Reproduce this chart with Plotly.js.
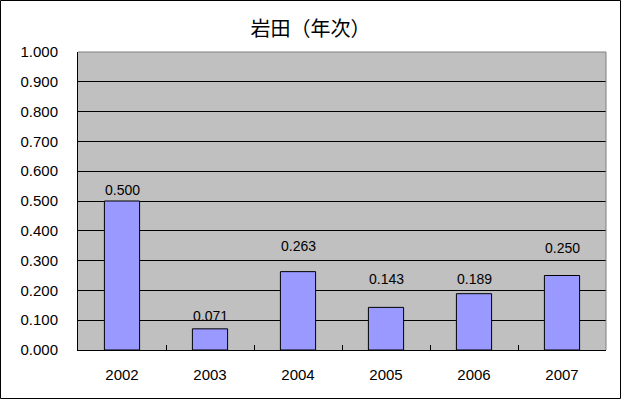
<!DOCTYPE html>
<html><head><meta charset="utf-8">
<script src="https://cdn.plot.ly/plotly-3.0.1.min.js"></script>
<style>body{margin:0;background:#fff}#c{width:621px;height:399px}</style>
</head><body><div id="c"></div>
<script>
var years = ['2002','2003','2004','2005','2006','2007'];
var values = [0.500, 0.071, 0.263, 0.143, 0.189, 0.250];
var yTicks = [0,0.1,0.2,0.3,0.4,0.5,0.6,0.7,0.8,0.9,1.0];
var titleText = '岩田（年次）';
// label placement (pixels above bar top), as positioned in the reference
var labelLift = [11, 13, 26, 28, 15, 28];

var L=78, R=15, T=52, B=49, W=621, H=399;
var pw=W-L-R, ph=H-T-B;
var font = 'Liberation Sans, Arial, sans-serif';

var trace = {
  type:'bar', x:years, y:values,
  marker:{color:'#9999FF', line:{color:'#000', width:1}},
  width:0.4,
  hoverinfo:'none'
};

var annotations = years.map(function(yr,i){
  return {x:i, y:values[i], xref:'x', yref:'y', text:values[i].toFixed(3),
          showarrow:false, xanchor:'center', yanchor:'middle', yshift:labelLift[i],
          font:{family:font, size:14, color:'#000'}};
});

var layout = {
  width:W, height:H,
  margin:{l:L, r:R, t:T, b:B, pad:0},
  paper_bgcolor:'#fff', plot_bgcolor:'#C0C0C0',
  showlegend:false,
  title:{text:titleText, font:{family:'Noto Sans CJK JP, sans-serif', size:20, color:'#000'},
         x:0.5, xanchor:'center', y:1-29/H, yanchor:'middle', yref:'container'},
  xaxis:{type:'category', categoryarray:years, range:[-0.5, years.length-0.5],
         tickson:'boundaries', ticks:'inside', ticklen:5, tickcolor:'#000',
         showline:true, linecolor:'#000', linewidth:1, showgrid:false,
         tickfont:{family:font, size:15, color:'#000'}, ticklabelstandoff:11,
         fixedrange:true},
  yaxis:{range:[0,1], tickvals:yTicks, tickformat:'.3f', ticks:'inside', ticklen:4, tickcolor:'#000',
         showline:true, linecolor:'#000', linewidth:1,
         showgrid:true, gridcolor:'#000', gridwidth:1, zeroline:false,
         tickfont:{family:font, size:15, color:'#000'}, ticklabelstandoff:16,
         fixedrange:true},
  annotations:annotations,
  shapes:[
    {type:'line', xref:'paper', yref:'paper', x0:0, x1:1, y0:1, y1:1, line:{color:'#808080', width:1}},
    {type:'line', xref:'paper', yref:'paper', x0:1, x1:1, y0:0, y1:1, line:{color:'#808080', width:1}},
    {type:'rect', xref:'paper', yref:'paper',
     x0:(0.5-L)/pw, x1:(W-0.5-L)/pw, y0:(ph-(H-0.5-T))/ph, y1:(ph-(0.5-T))/ph,
     line:{color:'#000', width:1}, fillcolor:'rgba(0,0,0,0)'}
  ]
};
Plotly.newPlot('c',[trace],layout,{staticPlot:true, displayModeBar:false});
</script></body></html>
